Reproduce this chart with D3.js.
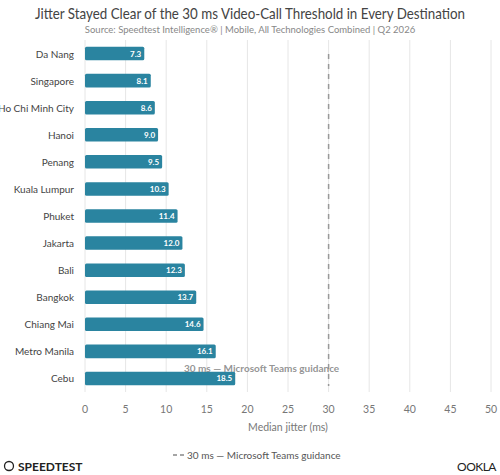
<!DOCTYPE html>
<html><head><meta charset="utf-8">
<script src="https://cdn.jsdelivr.net/npm/d3@7"></script>
<style>body{margin:0;background:#fff;font-family:Lato,"Open Sans",sans-serif}</style>
</head><body>
<script>
var cities = ['Da Nang','Singapore','Ho Chi Minh City','Hanoi','Penang','Kuala Lumpur','Phuket','Jakarta','Bali','Bangkok','Chiang Mai','Metro Manila','Cebu'];
var jitter = [7.3,8.1,8.6,9.0,9.5,10.3,11.4,12.0,12.3,13.7,14.6,16.1,18.5];
var ticks = [0,5,10,15,20,25,30,35,40,45,50];
var threshold = 30;

var svg = d3.select('body').append('svg').attr('width',500).attr('height',475);
var x = d3.scaleLinear().domain([0,50]).range([85,491]);
var y = d3.scaleBand().domain(cities).range([40,392]).paddingInner(0.5).paddingOuter(0.25);

svg.append('text').attr('x',250).attr('y',19).attr('text-anchor','middle')
  .attr('font-size',15).attr('fill','#444').attr('textLength',430).attr('lengthAdjust','spacingAndGlyphs')
  .text('Jitter Stayed Clear of the 30 ms Video-Call Threshold in Every Destination');
svg.append('text').attr('x',250).attr('y',33).attr('text-anchor','middle')
  .attr('font-size',9.5).attr('fill','#888').text('Source: Speedtest Intelligence® | Mobile, All Technologies Combined | Q2 2026');

svg.selectAll('line.grid').data(ticks).enter().append('line').attr('class','grid')
  .attr('x1',d=>x(d)).attr('x2',d=>x(d)).attr('y1',40).attr('y2',392)
  .attr('stroke','#e6e6e6');

svg.selectAll('text.tick').data(ticks).enter().append('text').attr('class','tick')
  .attr('x',d=>x(d)).attr('y',413).attr('text-anchor','middle').attr('font-size',10.5).attr('fill','#777').text(d=>d);

svg.selectAll('text.cat').data(cities).enter().append('text').attr('class','cat')
  .attr('x',74).attr('y',d=>y(d)+y.bandwidth()/2+4).attr('text-anchor','end')
  .attr('font-size',10).attr('fill','#444').text(d=>d);

svg.selectAll('rect.bar').data(jitter).enter().append('rect').attr('class','bar')
  .attr('x',x(0)).attr('y',(d,i)=>y(cities[i])).attr('width',d=>x(d)-x(0)).attr('height',y.bandwidth())
  .attr('fill','#2a84a0').attr('rx',1.5);

svg.selectAll('text.val').data(jitter).enter().append('text').attr('class','val')
  .attr('x',d=>x(d)-3).attr('y',(d,i)=>y(cities[i])+y.bandwidth()/2+3)
  .attr('text-anchor','end').attr('font-size',8).attr('font-weight','bold').attr('fill','#fff').text(d=>d.toFixed(1));

svg.append('line').attr('x1',x(threshold)).attr('x2',x(threshold)).attr('y1',54).attr('y2',386)
  .attr('stroke','#999').attr('stroke-width',1.5).attr('stroke-dasharray','5,5');
svg.append('text').attr('x',x(threshold)-67).attr('y',372).attr('text-anchor','middle')
  .attr('font-size',10).attr('font-weight','bold').attr('fill','#888').attr('fill-opacity',0.9)
  .text('30 ms — Microsoft Teams guidance');

svg.append('text').attr('x',x(25)).attr('y',431).attr('text-anchor','middle')
  .attr('font-size',10.5).attr('fill','#777').text('Median jitter (ms)');

svg.append('line').attr('x1',173).attr('x2',184).attr('y1',455).attr('y2',455)
  .attr('stroke','#888').attr('stroke-width',1.5).attr('stroke-dasharray','4,3');
svg.append('text').attr('x',187).attr('y',459).attr('font-size',10).attr('fill','#555')
  .text('30 ms — Microsoft Teams guidance');

svg.append('circle').attr('cx',9).attr('cy',466).attr('r',4.5).attr('fill','none').attr('stroke','#222').attr('stroke-width',1.3);
svg.append('text').attr('x',18).attr('y',471).attr('font-size',12).attr('font-weight','bold').attr('fill','#222').text('SPEEDTEST');
svg.append('text').attr('x',496).attr('y',471).attr('text-anchor','end').attr('font-size',12).attr('fill','#222').attr('letter-spacing','-0.5').text('OOKLA');
</script>
</body></html>
